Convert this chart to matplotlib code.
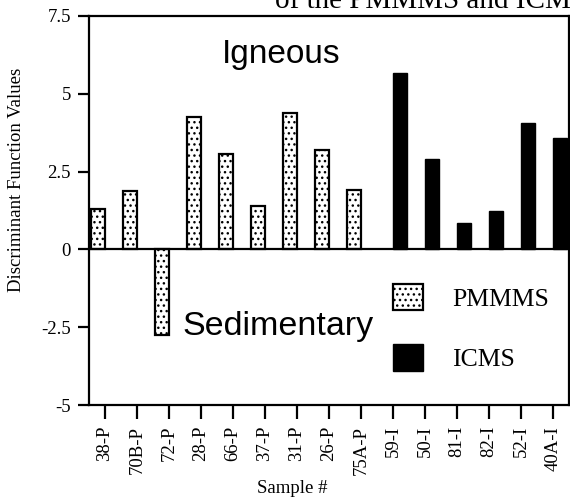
import matplotlib.pyplot as plt
from matplotlib.patches import Patch
import numpy as np

plt.rcParams['font.family'] = ['Liberation Serif', 'DejaVu Serif']
plt.rcParams['hatch.linewidth'] = 1.0

# sample labels along the x axis
samples = ["38-P", "70B-P", "72-P", "28-P", "66-P", "37-P", "31-P", "26-P", "75A-P",
           "59-I", "50-I", "81-I", "82-I", "52-I", "40A-I"]

# discriminant values
pmmms_vals = [1.3, 1.88, -2.75, 4.25, 3.06, 1.39, 4.39, 3.2, 1.9]
icms_vals = [5.67, 2.9, 0.85, 1.23, 4.07, 3.58]

yticks = [-5, -2.5, 0, 2.5, 5, 7.5]
ytick_labels = ["-5", "-2.5", "0", "2.5", "5", "7.5"]

W, H = 570, 501
fig = plt.figure(figsize=(W / 100, H / 100), dpi=100)
ax = fig.add_axes([89 / W, 1 - 405 / H, (569 - 89) / W, (405 - 16) / H])

x = np.arange(len(samples))
bw = 0.43
x_p = x[:len(pmmms_vals)]
x_i = x[len(pmmms_vals):]

ax.bar(x_p - bw / 2, pmmms_vals, width=bw, facecolor='white', edgecolor='black',
       linewidth=1.6, hatch='...')
ax.bar(x_i + bw / 2, icms_vals, width=bw, color='black', edgecolor='black', linewidth=1)

ax.axhline(0, color='black', lw=1.6)

ax.set_xlim(-0.5, len(samples) - 0.5)
ax.set_ylim(-5, 7.5)
ax.set_yticks(yticks)
ax.set_yticklabels(ytick_labels, fontsize=13.5)
ax.set_xticks(x)
ax.set_xticklabels(samples, rotation=90, fontsize=13.5)

ax.tick_params(axis='y', direction='out', length=8, width=1.6, pad=5)
ax.tick_params(axis='x', direction='out', length=10, width=1.6, pad=5)
for s in ax.spines.values():
    s.set_linewidth(1.6)

# region labels
ax.text(222, H - 63, "Igneous", transform=None, fontsize=24,
        family='Liberation Sans', ha='left', va='baseline')
ax.text(182, H - 335, "Sedimentary", transform=None, fontsize=24.5,
        family='Liberation Sans', ha='left', va='baseline')

# axis titles
fig.text(17 / W, 1 - 180 / H, "Discriminant Function Values", rotation=90,
         ha='center', va='center', fontsize=13.5)
fig.text(292 / W, 1 - 493 / H, "Sample #", ha='center', va='baseline', fontsize=13.5)

# title, cut off by the top edge as in the scan
fig.text(275 / W, 1 - 8 / H, "of the PMMMS and ICMS", ha='left', va='baseline',
         fontsize=21)

handles = [Patch(facecolor='white', edgecolor='black', hatch='...', linewidth=1.6),
           Patch(facecolor='black', edgecolor='black')]
ax.legend(handles, ["PMMMS", "ICMS"], loc='upper left', frameon=False,
          bbox_to_anchor=(393 / W, 1 - 284 / H), bbox_transform=fig.transFigure,
          borderpad=0, borderaxespad=0, fontsize=18.5, handlelength=1.15,
          handleheight=1.2, handletextpad=1.15, labelspacing=1.3)

fig.savefig("out.png", dpi=100)
